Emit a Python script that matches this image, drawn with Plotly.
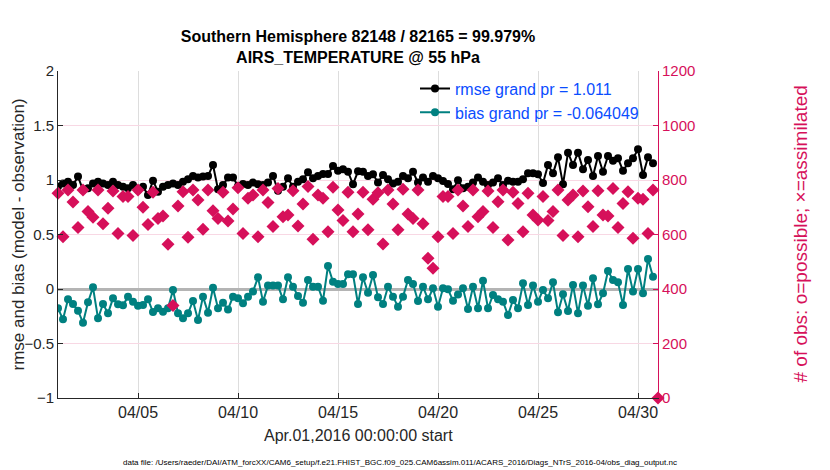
import pandas as pd
import plotly.graph_objects as go

# 6-hourly bins, Apr 1 00Z .. Apr 30 18Z (counts carry one extra bin at May 1 00Z)
times = pd.date_range('2016-04-01 00:00', periods=120, freq='6h')
count_times = pd.date_range('2016-04-01 00:00', periods=121, freq='6h')

rmse = [
    0.94, 0.969, 0.985, 0.954, 1.031, 0.908, 0.924, 0.969, 0.985, 0.969,
    0.954, 0.985, 0.954, 0.939, 0.924, 0.954, 0.908, 0.939, 0.862, 0.994,
    0.893, 0.939, 0.954, 0.969, 0.954, 0.985, 1.006, 1.037, 1.024, 1.031,
    1.037, 1.138, 0.914, 0.954, 1.024, 1.024, 0.945, 0.963, 0.954, 0.976,
    0.962, 0.954, 0.976, 1.037, 0.902, 0.939, 1.015, 0.939, 0.985, 1.006,
    1.07, 1.015, 1.037, 1.055, 1.055, 1.128, 1.086, 1.098, 1.076, 0.96,
    1.08, 1.076, 1.037, 1.052, 0.976, 1.046, 1.006, 0.969, 0.985, 1.037,
    1.015, 1.076, 0.976, 1.024, 0.985, 1.037, 1.015, 0.991, 0.963, 0.914,
    0.997, 0.924, 0.939, 0.976, 1.024, 0.985, 0.954, 0.976, 1.015, 0.954,
    0.994, 0.985, 0.985, 1.006, 1.061, 1.061, 1.052, 0.972, 1.138, 1.061,
    1.208, 0.96, 1.251, 1.138, 1.251, 1.098, 1.183, 1.037, 1.22, 1.076,
    1.22, 1.177, 1.199, 1.086, 1.153, 1.199, 1.281, 1.046, 1.208, 1.153,
]

bias = [
    -0.177, -0.278, -0.095, -0.138, -0.199, -0.309, -0.122, 0.015, -0.269, -0.138,
    -0.223, -0.086, -0.141, -0.15, -0.07, -0.116, -0.153, -0.147, -0.095, -0.211,
    -0.177, -0.208, -0.177, -0.009, -0.223, -0.269, -0.223, -0.11, -0.284, -0.07,
    -0.217, 0.012, -0.177, -0.125, -0.187, -0.07, -0.086, -0.131, -0.07, -0.024,
    0.107, -0.116, 0.031, 0.031, 0.031, -0.095, 0.107, 0.021, -0.064, -0.125,
    0.083, 0.021, 0.021, -0.107, 0.211, 0.067, 0.046, 0.046, 0.135, 0.135,
    -0.138, 0.107, -0.034, 0.128, -0.076, -0.138, 0.021, -0.07, -0.162, -0.07,
    0.083, 0.046, -0.11, 0.021, -0.095, 0.006, -0.162, 0.006, -0.003, -0.107,
    -0.05, 0.006, -0.183, 0.021, -0.177, 0.076, -0.177, -0.055, -0.095, -0.116,
    -0.239, -0.101, -0.177, 0.052, -0.147, 0.031, -0.116, -0.009, -0.086, 0.061,
    -0.214, -0.049, -0.202, 0.037, -0.223, 0.031, -0.153, 0.098, -0.141, -0.04,
    0.165, 0.083, 0.061, -0.147, 0.183, -0.024, 0.183, -0.04, 0.275, 0.113,
]

obs_count = [
    751, 592, 763, 719, 626, 763, 684, 663, 763, 639,
    696, 760, 604, 739, 739, 596, 763, 700, 637, 755,
    659, 668, 564, 339, 705, 757, 590, 763, 727, 619,
    763, 687, 659, 755, 650, 694, 772, 604, 733, 745,
    592, 763, 717, 629, 769, 665, 672, 761, 631, 712,
    776, 583, 745, 733, 610, 773, 690, 651, 755, 610,
    675, 755, 617, 729, 753, 565, 763, 712, 617, 766,
    675, 659, 763, 639, 513, 476, 592, 739, 739, 604,
    763, 705, 629, 763, 665, 684, 760, 626, 720, 763,
    580, 755, 714, 610, 751, 672, 653, 739, 651, 684,
    763, 596, 727, 745, 592, 760, 702, 629, 761, 672,
    668, 769, 626, 714, 757, 586, 733, 729, 604, 763,
    0,
]

rmse_label = 'rmse grand pr = 1.011'
bias_label = 'bias grand pr = -0.064049'
tick_dates = ['2016-04-05', '2016-04-10', '2016-04-15', '2016-04-20', '2016-04-25', '2016-04-30']
tick_text = ['04/05', '04/10', '04/15', '04/20', '04/25', '04/30']

crimson = '#d6105a'
teal = '#008080'
font = 'Liberation Sans, Arial, sans-serif'

fig = go.Figure()

fig.add_trace(go.Scatter(
    x=count_times, y=obs_count, yaxis='y2', mode='markers',
    marker=dict(symbol='diamond', size=10, color=crimson),
    showlegend=False, cliponaxis=False,
))
fig.add_trace(go.Scatter(
    x=times, y=rmse, mode='lines+markers', name=rmse_label,
    line=dict(color='black', width=2),
    marker=dict(symbol='circle', size=8, color='black'),
))
fig.add_trace(go.Scatter(
    x=times, y=bias, mode='lines+markers', name=bias_label,
    line=dict(color=teal, width=2),
    marker=dict(symbol='circle', size=8, color=teal),
))

# the page body adds an 8px offset, so margins are pulled in by 8px
fig.update_layout(
    width=830, height=470,
    margin=dict(l=50, r=180, t=63, b=80),
    paper_bgcolor='white', plot_bgcolor='white',
    font=dict(family=font, size=14, color='#262626'),
    title=dict(
        text='<b>Southern Hemisphere 82148 / 82165 = 99.979%</b><br>'
             '<b>AIRS_TEMPERATURE @ 55 hPa</b>',
        x=0.5, xref='paper', xanchor='center',
        y=1 - 34 / 470, yref='container', yanchor='top',
        font=dict(size=16, color='black', family=font),
    ),
    xaxis=dict(
        range=['2016-04-01', '2016-05-01'],
        tickvals=tick_dates, ticktext=tick_text,
        ticks='inside', ticklen=5, tickcolor='#262626',
        showline=True, linecolor='#262626', linewidth=1,
        showgrid=True, gridcolor='#dddddd', gridwidth=1,
        zeroline=False, tickfont=dict(size=16),
    ),
    yaxis=dict(
        range=[-1, 2], dtick=0.5,
        ticks='inside', ticklen=5, tickcolor='#262626',
        showline=True, linecolor='#262626', linewidth=1,
        showgrid=False,
        zeroline=True, zerolinecolor='#b4b4b4', zerolinewidth=2.5,
        tickfont=dict(size=15),
    ),
    yaxis2=dict(
        range=[0, 1200], dtick=200, overlaying='y', side='right',
        ticks='inside', ticklen=5, tickcolor=crimson,
        showline=True, linecolor=crimson, linewidth=1,
        showgrid=True, gridcolor='#f8d8e4', gridwidth=1,
        zeroline=False, tickfont=dict(size=15, color=crimson),
    ),
    legend=dict(
        x=0.595, y=0.998, xanchor='left', yanchor='top',
        bgcolor='rgba(0,0,0,0)', font=dict(size=16, color='#0a4dff'),
        tracegroupgap=0, itemwidth=30,
    ),
    annotations=[
        dict(text='rmse and bias (model - observation)', xref='paper', yref='paper',
             x=0, y=0.5, xshift=-40, xanchor='center', yanchor='middle',
             textangle=-90, showarrow=False,
             font=dict(size=17, color='#262626')),
        dict(text='# of obs: o=possible; \u00d7=assimilated', xref='paper', yref='paper',
             x=1, y=0.5, xshift=142, xanchor='center', yanchor='middle',
             textangle=-90, showarrow=False,
             font=dict(size=19, color=crimson)),
        dict(text='Apr.01,2016 00:00:00 start', xref='paper', yref='paper',
             x=0.5, y=0, yshift=-37, xanchor='center', yanchor='middle',
             showarrow=False, font=dict(size=16, color='#262626')),
        dict(text='data file: /Users/raeder/DAI/ATM_forcXX/CAM6_setup/f.e21.FHIST_BGC.f09_025.CAM6assim.011/ACARS_2016/Diags_NTrS_2016-04/obs_diag_output.nc',
             xref='paper', yref='paper', x=0.57, y=0, yshift=-64,
             xanchor='center', yanchor='middle', showarrow=False,
             font=dict(size=8, color='black')),
    ],
)

fig.write_html('out.html')
